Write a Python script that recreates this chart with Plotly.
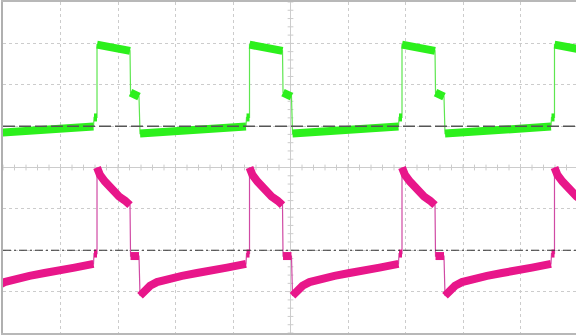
import plotly.graph_objects as go

# Screen geometry in divisions: 10 horizontal x 8 vertical, centre at (5, 0)
X_RANGE = [0, 9.965]
Y_RANGE = [-4, 4]

# Rising-edge instants of the switching waveform (div from left edge)
edge_times = [-1.017, 1.635, 4.287, 6.939, 9.591]

# Channel 1 (green) - plateau segments, phase (div after rising edge) and level (div)
g_high_t = [0.0, 0.574]
g_high_v = [2.97, 2.82]
g_mid_t = [0.583, 0.730]
g_mid_v = [1.81, 1.715]
g_low_t = [0.748, 2.591]
g_low_v = [0.82, 0.99]
g_ped_t = [2.600, 2.652]
g_ped_v = [1.21, 1.21]

# Channel 2 (magenta) - plateau segments
m_high_t = [0.0, 0.009, 0.052, 0.139, 0.261, 0.383, 0.487, 0.574]
m_high_v = [0.0, -0.04, -0.18, -0.34, -0.54, -0.70, -0.80, -0.91]
m_mid_t = [0.583, 0.730]
m_mid_v = [-2.14, -2.14]
m_low_t = [0.748, 0.835, 0.922, 1.043, 1.217, 1.478, 1.739, 2.0, 2.261, 2.591]
m_low_v = [-3.10, -2.96, -2.86, -2.77, -2.69, -2.62, -2.55, -2.50, -2.42, -2.33]
m_ped_t = [2.600, 2.652]
m_ped_v = [-2.08, -2.08]

# Ground reference markers
green_ref = 1.0
magenta_ref = -2.0

GREEN = "#2cf01c"
GREEN_EDGE = "#5ee650"
MAGENTA = "#e8168a"
MAGENTA_EDGE = "#d04aa4"
GRID = "#cccccc"


def build(segments):
    """Return (thin path, thick segmented path) for every period on screen."""
    thin_x, thin_y, thick_x, thick_y = [], [], [], []
    for t0 in edge_times:
        for ts, vs in segments:
            xs = [t0 + t for t in ts]
            thin_x += xs
            thin_y += vs
            thick_x += xs + [None]
            thick_y += list(vs) + [None]
    return thin_x, thin_y, thick_x, thick_y


green_segs = [(g_high_t, g_high_v), (g_mid_t, g_mid_v), (g_low_t, g_low_v), (g_ped_t, g_ped_v)]
mag_segs = [(m_high_t, m_high_v), (m_mid_t, m_mid_v), (m_low_t, m_low_v), (m_ped_t, m_ped_v)]

fig = go.Figure()
for segs, col, edge_col in [(green_segs, GREEN, GREEN_EDGE), (mag_segs, MAGENTA, MAGENTA_EDGE)]:
    tx, ty, kx, ky = build(segs)
    fig.add_trace(go.Scatter(x=tx, y=ty, mode="lines", line=dict(color=edge_col, width=1.2),
                             hoverinfo="skip", showlegend=False))
    fig.add_trace(go.Scatter(x=kx, y=ky, mode="lines", connectgaps=False,
                             line=dict(color=col, width=8), hoverinfo="skip", showlegend=False))

shapes = []
# centre cross-hair with minor ticks
shapes.append(dict(type="line", xref="x", yref="y", x0=X_RANGE[0], x1=X_RANGE[1], y0=0, y1=0,
                   line=dict(color=GRID, width=1), layer="below"))
shapes.append(dict(type="line", xref="x", yref="y", x0=5, x1=5, y0=Y_RANGE[0], y1=Y_RANGE[1],
                   line=dict(color=GRID, width=1), layer="below"))
for i in range(0, 50):
    x = i * 0.2
    shapes.append(dict(type="line", xref="x", yref="y", x0=x, x1=x, y0=-0.07, y1=0.07,
                       line=dict(color=GRID, width=1), layer="below"))
for i in range(-20, 21):
    y = i * 0.2
    shapes.append(dict(type="line", xref="x", yref="y", x0=4.95, x1=5.05, y0=y, y1=y,
                       line=dict(color=GRID, width=1), layer="below"))
# ground reference lines
shapes.append(dict(type="line", xref="x", yref="y", x0=X_RANGE[0], x1=X_RANGE[1], y0=green_ref, y1=green_ref,
                   line=dict(color="#555555", width=1.5, dash="12px,4px")))
shapes.append(dict(type="line", xref="x", yref="y", x0=X_RANGE[0], x1=X_RANGE[1], y0=magenta_ref, y1=magenta_ref,
                   line=dict(color="#333333", width=1.2, dash="8px,3px,2px,3px")))

fig.update_layout(
    width=576, height=335,
    margin=dict(l=3, r=0, t=2, b=2),
    paper_bgcolor="white", plot_bgcolor="white",
    shapes=shapes,
    xaxis=dict(range=X_RANGE, dtick=1, tick0=0, showticklabels=False, ticks="",
               showgrid=True, gridcolor=GRID, griddash="dot", gridwidth=1, zeroline=False,
               showline=True, mirror=True, linecolor="#b8b8b8", linewidth=1.5, fixedrange=True),
    yaxis=dict(range=Y_RANGE, dtick=1, tick0=0, showticklabels=False, ticks="",
               showgrid=True, gridcolor=GRID, griddash="dot", gridwidth=1, zeroline=False,
               showline=True, mirror=False, linecolor="#b0b0b0", linewidth=2, fixedrange=True),
)

fig.write_html("out.html")
